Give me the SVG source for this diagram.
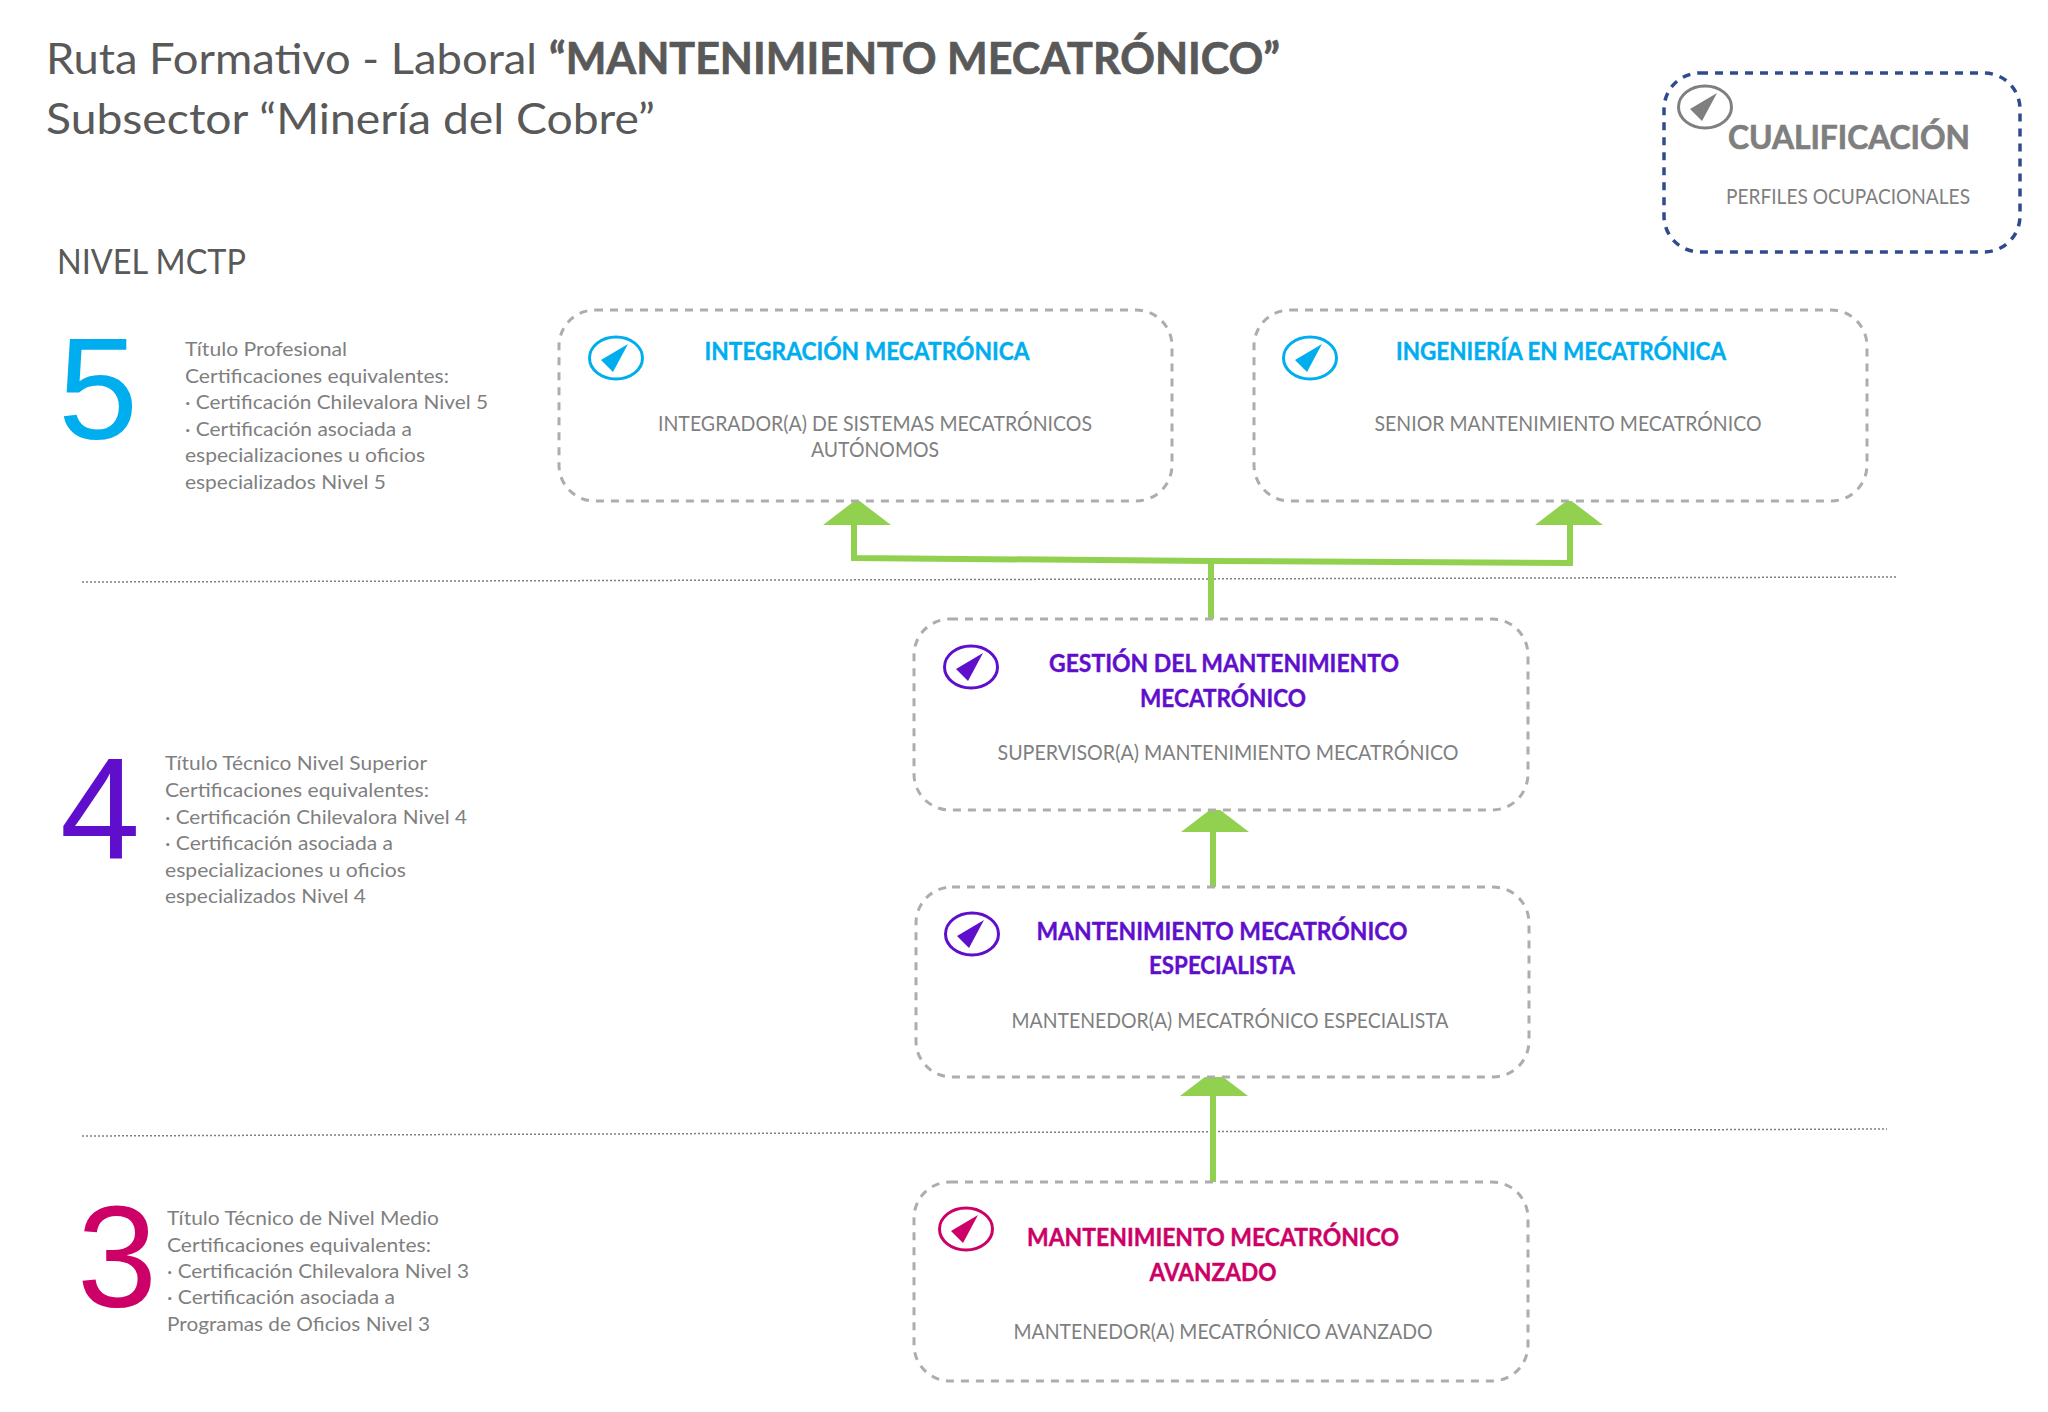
<svg xmlns="http://www.w3.org/2000/svg" width="2048" height="1412" viewBox="0 0 2048 1412">
<style>
text{font-family:"Lato","Open Sans","Liberation Sans",sans-serif}
.box{fill:#fff;stroke:#adadad;stroke-width:3;stroke-dasharray:8 7}
.qbox{fill:#fff;stroke:#2f4b8f;stroke-width:3.5;stroke-dasharray:8 7}
.conn{fill:none;stroke:#92d050;stroke-width:6}
.rule{fill:none;stroke:#7f7f7f;stroke-width:1.5;stroke-dasharray:2 2}
.h1{font-size:43px;fill:#595959}
.h1b{font-size:43px;fill:#595959;font-weight:700;stroke:#595959;stroke-width:.7}
.nv{font-size:35px;fill:#595959}
.num{font-family:"Liberation Sans",sans-serif;font-size:144px}
.d{font-size:20px;fill:#7f7f7f}
.t{font-size:24px;font-weight:700;text-anchor:middle;stroke:currentColor;stroke-width:.4}
.s{font-size:21px;fill:#7f7f7f;text-anchor:middle}
.big{font-size:33px;stroke-width:.7}
.c5{color:#00aeef;fill:#00aeef}
.c4{color:#5f0fcc;fill:#5f0fcc}
.c3{color:#cc0066;fill:#cc0066}
.cg{color:#7f7f7f;fill:#7f7f7f}
</style>
<defs>
<g id="ico">
<ellipse cx="0" cy="0" rx="26.5" ry="21" fill="none" stroke="currentColor" stroke-width="3"/>
<polygon points="12,-14 -15,2 -3,14" fill="currentColor"/>
</g>
<marker id="headL" markerUnits="userSpaceOnUse" markerWidth="28" markerHeight="80" refX="0" refY="37" orient="auto" viewBox="0 0 28 80"><polygon points="0,6 26,40 0,74" fill="#92d050"/></marker>
<marker id="headR" markerUnits="userSpaceOnUse" markerWidth="28" markerHeight="80" refX="0" refY="41" orient="auto" viewBox="0 0 28 80"><polygon points="0,6 26,40 0,74" fill="#92d050"/></marker>
<marker id="headG" markerUnits="userSpaceOnUse" markerWidth="28" markerHeight="80" refX="0" refY="38" orient="auto" viewBox="0 0 28 80"><polygon points="0,6 26,40 0,74" fill="#92d050"/></marker>
<marker id="headE" markerUnits="userSpaceOnUse" markerWidth="28" markerHeight="80" refX="0" refY="39" orient="auto" viewBox="0 0 28 80"><polygon points="0,6 26,40 0,74" fill="#92d050"/></marker>
</defs>

<g id="title">
<text class="h1" x="46" y="74" textLength="491" lengthAdjust="spacingAndGlyphs">Ruta Formativo - Laboral</text>
<text class="h1b" x="549" y="74" textLength="731" lengthAdjust="spacingAndGlyphs">“MANTENIMIENTO MECATRÓNICO”</text>
<text class="h1" x="46" y="134" textLength="609" lengthAdjust="spacingAndGlyphs">Subsector “Minería del Cobre”</text>
<text class="nv" x="57" y="274" textLength="189" lengthAdjust="spacingAndGlyphs">NIVEL MCTP</text>
</g>

<g id="connectors">
<path class="rule" d="M82 582L1898 577"/>
<path class="rule" d="M82 1136L1887 1129"/>
<path class="conn" marker-end="url(#headL)" d="M1211 561L854 558V525"/>
<path class="conn" marker-end="url(#headR)" d="M1211 561L1570 563V525"/>
<path class="conn" d="M1211 619V561"/>
<path class="conn" marker-end="url(#headG)" d="M1213 887V832"/>
<path class="conn" marker-end="url(#headE)" d="M1213 1182V1096"/>
</g>

<g id="level5">
<text class="num c5" x="58" y="439">5</text>
<text class="d" x="185" y="356" textLength="162" lengthAdjust="spacingAndGlyphs">Título Profesional</text>
<text class="d" x="185" y="383" textLength="264" lengthAdjust="spacingAndGlyphs">Certificaciones equivalentes:</text>
<text class="d" x="185" y="409" textLength="303" lengthAdjust="spacingAndGlyphs">· Certificación Chilevalora Nivel 5</text>
<text class="d" x="185" y="436" textLength="227" lengthAdjust="spacingAndGlyphs">· Certificación asociada a</text>
<text class="d" x="185" y="462" textLength="240" lengthAdjust="spacingAndGlyphs">especializaciones u oficios</text>
<text class="d" x="185" y="489" textLength="201" lengthAdjust="spacingAndGlyphs">especializados Nivel 5</text>
</g>
<g id="level4">
<text class="num c4" x="60" y="859">4</text>
<text class="d" x="165" y="770" textLength="262" lengthAdjust="spacingAndGlyphs">Título Técnico Nivel Superior</text>
<text class="d" x="165" y="797" textLength="264" lengthAdjust="spacingAndGlyphs">Certificaciones equivalentes:</text>
<text class="d" x="165" y="824" textLength="302" lengthAdjust="spacingAndGlyphs">· Certificación Chilevalora Nivel 4</text>
<text class="d" x="165" y="850" textLength="228" lengthAdjust="spacingAndGlyphs">· Certificación asociada a</text>
<text class="d" x="165" y="877" textLength="241" lengthAdjust="spacingAndGlyphs">especializaciones u oficios</text>
<text class="d" x="165" y="903" textLength="201" lengthAdjust="spacingAndGlyphs">especializados Nivel 4</text>
</g>
<g id="level3">
<text class="num c3" x="77" y="1307">3</text>
<text class="d" x="167" y="1225" textLength="272" lengthAdjust="spacingAndGlyphs">Título Técnico de Nivel Medio</text>
<text class="d" x="167" y="1252" textLength="264" lengthAdjust="spacingAndGlyphs">Certificaciones equivalentes:</text>
<text class="d" x="167" y="1278" textLength="302" lengthAdjust="spacingAndGlyphs">· Certificación Chilevalora Nivel 3</text>
<text class="d" x="167" y="1304" textLength="228" lengthAdjust="spacingAndGlyphs">· Certificación asociada a</text>
<text class="d" x="167" y="1331" textLength="263" lengthAdjust="spacingAndGlyphs">Programas de Oficios Nivel 3</text>
</g>

<g id="legend">
<rect class="qbox" x="1664" y="73" width="356" height="179" rx="36"/>
<use href="#ico" x="1705" y="107" class="cg"/>
<text class="t big cg" x="1849" y="149" textLength="242" lengthAdjust="spacingAndGlyphs">CUALIFICACIÓN</text>
<text class="s" x="1848" y="204" textLength="244" lengthAdjust="spacingAndGlyphs">PERFILES OCUPACIONALES</text>
</g>

<g id="integracion">
<rect class="box" x="559" y="310" width="613" height="191" rx="36"/>
<use href="#ico" x="616" y="358" class="c5"/>
<text class="t c5" x="867" y="360" textLength="325" lengthAdjust="spacingAndGlyphs">INTEGRACIÓN MECATRÓNICA</text>
<text class="s" x="875" y="431" textLength="434" lengthAdjust="spacingAndGlyphs">INTEGRADOR(A) DE SISTEMAS MECATRÓNICOS</text>
<text class="s" x="875" y="457" textLength="128" lengthAdjust="spacingAndGlyphs">AUTÓNOMOS</text>
</g>
<g id="ingenieria">
<rect class="box" x="1254" y="310" width="613" height="191" rx="36"/>
<use href="#ico" x="1310" y="358" class="c5"/>
<text class="t c5" x="1561" y="360" textLength="330" lengthAdjust="spacingAndGlyphs">INGENIERÍA EN MECATRÓNICA</text>
<text class="s" x="1568" y="431" textLength="387" lengthAdjust="spacingAndGlyphs">SENIOR MANTENIMIENTO MECATRÓNICO</text>
</g>
<g id="gestion">
<rect class="box" x="914" y="619" width="614" height="191" rx="36"/>
<use href="#ico" x="971" y="667" class="c4"/>
<text class="t c4" x="1224" y="672" textLength="350" lengthAdjust="spacingAndGlyphs">GESTIÓN DEL MANTENIMIENTO</text>
<text class="t c4" x="1223" y="707" textLength="166" lengthAdjust="spacingAndGlyphs">MECATRÓNICO</text>
<text class="s" x="1228" y="760" textLength="461" lengthAdjust="spacingAndGlyphs">SUPERVISOR(A) MANTENIMIENTO MECATRÓNICO</text>
</g>
<g id="especialista">
<rect class="box" x="916" y="887" width="613" height="190" rx="36"/>
<use href="#ico" x="972" y="934" class="c4"/>
<text class="t c4" x="1222" y="940" textLength="371" lengthAdjust="spacingAndGlyphs">MANTENIMIENTO MECATRÓNICO</text>
<text class="t c4" x="1222" y="974" textLength="146" lengthAdjust="spacingAndGlyphs">ESPECIALISTA</text>
<text class="s" x="1230" y="1028" textLength="437" lengthAdjust="spacingAndGlyphs">MANTENEDOR(A) MECATRÓNICO ESPECIALISTA</text>
</g>
<g id="avanzado">
<rect class="box" x="914" y="1182" width="614" height="199" rx="36"/>
<use href="#ico" x="966" y="1229" class="c3"/>
<text class="t c3" x="1213" y="1246" textLength="372" lengthAdjust="spacingAndGlyphs">MANTENIMIENTO MECATRÓNICO</text>
<text class="t c3" x="1213" y="1281" textLength="127" lengthAdjust="spacingAndGlyphs">AVANZADO</text>
<text class="s" x="1223" y="1339" textLength="419" lengthAdjust="spacingAndGlyphs">MANTENEDOR(A) MECATRÓNICO AVANZADO</text>
</g>
</svg>
